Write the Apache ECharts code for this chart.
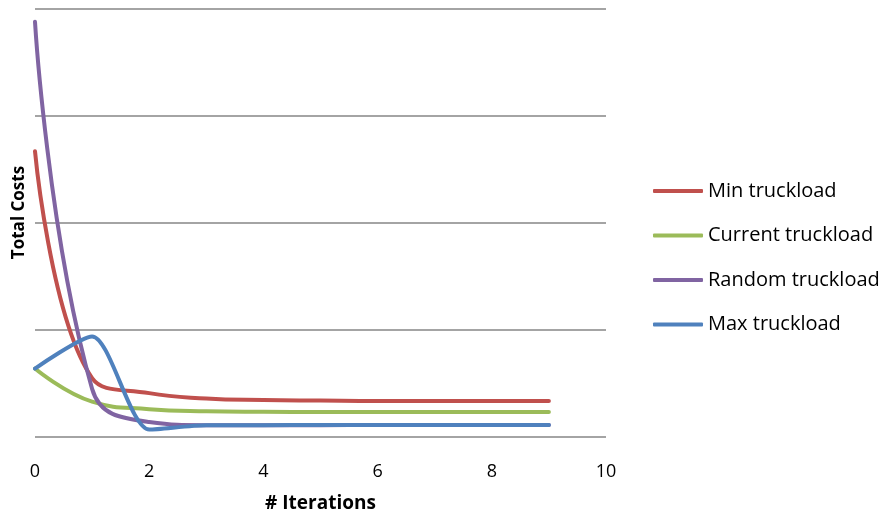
<!DOCTYPE html>
<html><head><meta charset="utf-8">
<script src="https://cdn.jsdelivr.net/npm/echarts@6/dist/echarts.min.js"></script>
<style>html,body{margin:0;padding:0;background:#fff}#c{width:888px;height:518px}</style>
</head><body><div id="c"></div>
<script>
const iterations = [0, 1, 2, 3, 4, 5, 6, 7, 8, 9];
const minTruckload = [2.67, 0.55, 0.41, 0.36, 0.345, 0.34, 0.336, 0.336, 0.336, 0.336];
const currentTruckload = [0.64, 0.33, 0.26, 0.24, 0.235, 0.233, 0.233, 0.233, 0.233, 0.233];
const randomTruckload = [3.88, 0.45, 0.14, 0.11, 0.11, 0.11, 0.112, 0.112, 0.112, 0.112];
const maxTruckload = [0.64, 0.94, 0.07, 0.11, 0.11, 0.112, 0.112, 0.112, 0.112, 0.112];
const xTicks = [0, 2, 4, 6, 8, 10];

const font = 'Open Sans';
function mk(name, vals, color, smooth) {
  return {
    name, type: 'line', smooth, symbol: 'none',
    data: iterations.map((x, i) => [x, vals[i]]),
    lineStyle: { color, width: 4, cap: 'round', join: 'round' },
    itemStyle: { color }
  };
}
const chart = echarts.init(document.getElementById('c'));
chart.setOption({
  animation: false,
  grid: { left: 35, right: 282, top: 9, bottom: 80 },
  xAxis: {
    type: 'value', min: 0, max: 10, interval: 2,
    axisLine: { show: false }, axisTick: { show: false }, splitLine: { show: false },
    axisLabel: { fontFamily: font, fontSize: 18, color: '#000', margin: 26,
      formatter: v => xTicks.includes(v) ? String(v) : '' },
    name: '# Iterations', nameLocation: 'middle', nameGap: 57,
    nameTextStyle: { fontFamily: font, fontSize: 19, fontWeight: 'bold', color: '#000' }
  },
  yAxis: {
    type: 'value', min: 0, max: 4, interval: 1,
    axisLine: { show: false }, axisTick: { show: false },
    axisLabel: { show: false },
    splitLine: { lineStyle: { color: '#868686', width: 1.5 } },
    name: 'Total Costs', nameLocation: 'middle', nameGap: 7, nameRotate: 90,
    nameTextStyle: { fontFamily: font, fontSize: 17, fontWeight: 'bold', color: '#000', padding: [0, 0, 0, 21] }
  },
  legend: {
    orient: 'vertical', left: 648, top: 176,
    icon: 'roundRect', itemWidth: 50, itemHeight: 4, itemGap: 24.5,
    textStyle: { fontFamily: font, fontSize: 20, color: '#000', lineHeight: 20 },
    data: ['Min truckload', 'Current truckload', 'Random truckload', 'Max truckload']
  },
  series: [
    mk('Min truckload', minTruckload, '#C0504D', 0.45),
    mk('Current truckload', currentTruckload, '#9BBB59', 0.45),
    mk('Random truckload', randomTruckload, '#8064A2', 0.45),
    mk('Max truckload', maxTruckload, '#4F81BD', 0.25)
  ]
});
</script></body></html>
